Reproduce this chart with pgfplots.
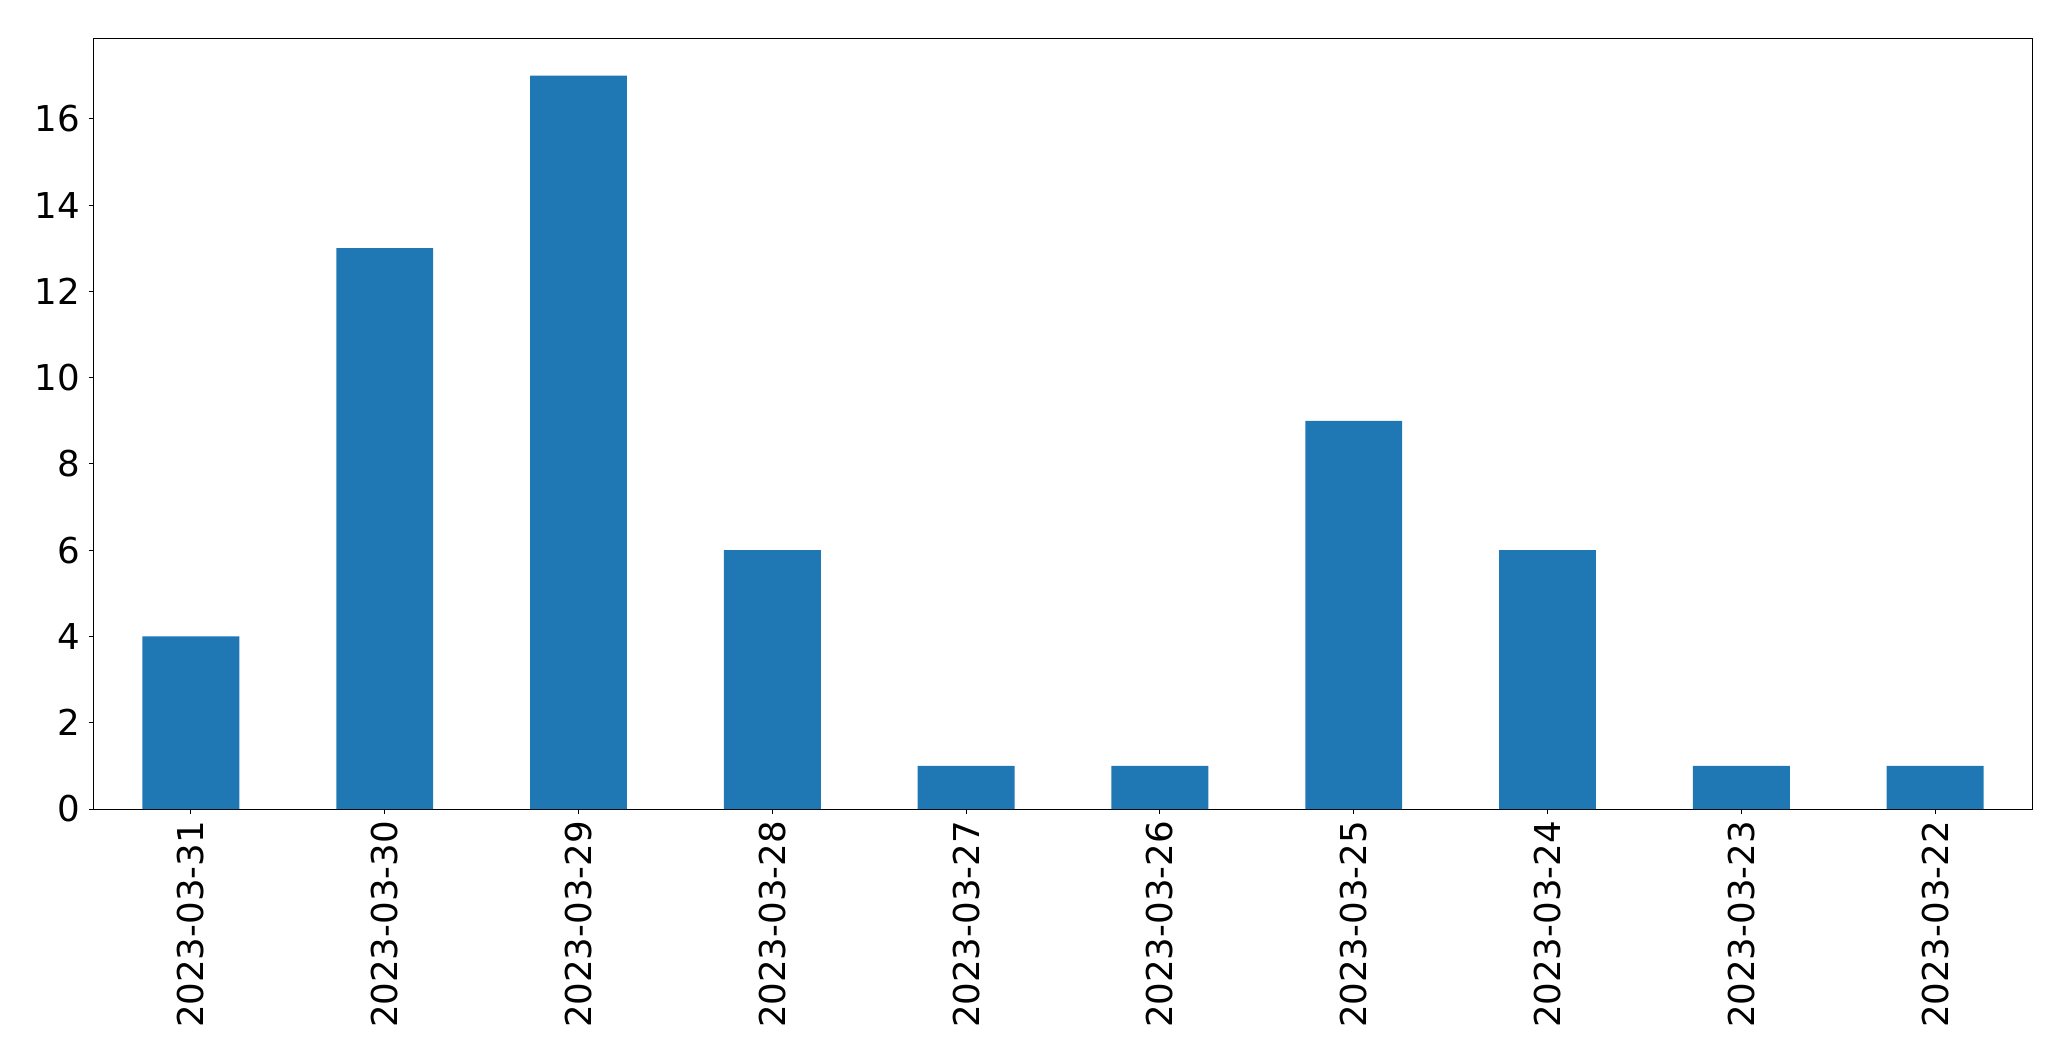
\documentclass[border=0pt]{standalone}
\usepackage{fontspec}
\setmainfont{DejaVu Sans}
\usepackage{pgfplots}
\pgfplotsset{compat=1.18}
\definecolor{mplblue}{HTML}{1F77B4}

\begin{document}
\begin{tikzpicture}
\begin{axis}[
name=ax,
scale only axis,
width=969pt, height=385pt,
xmin=-0.5, xmax=9.5,
ymin=0, ymax=17.85,
xtick={0,...,9},
xticklabels={2023-03-31,2023-03-30,2023-03-29,2023-03-28,2023-03-27,2023-03-26,2023-03-25,2023-03-24,2023-03-23,2023-03-22},
ytick={0,2,...,16},
x tick label style={rotate=90, anchor=east},
tick label style={font=\fontsize{17.8}{21}\selectfont},
/pgf/number format/assume math mode=true,
tick align=outside,
xtick pos=bottom, ytick pos=left,
major tick length=2.5pt,
tick style={black, line width=0.5pt},
axis line style={line width=0.5pt},
xticklabel shift=0pt,
yticklabel shift=1pt,
]
\addplot[ybar, bar width=0.5, fill=mplblue, draw=none] coordinates {
(0,4) (1,13) (2,17) (3,6) (4,1) (5,1) (6,9) (7,6) (8,1) (9,1)
};
\end{axis}
\path ([shift={(-47pt,-126pt)}]ax.south west) rectangle ([shift={(19.5pt,19.5pt)}]ax.north east);
\end{tikzpicture}
\end{document}
